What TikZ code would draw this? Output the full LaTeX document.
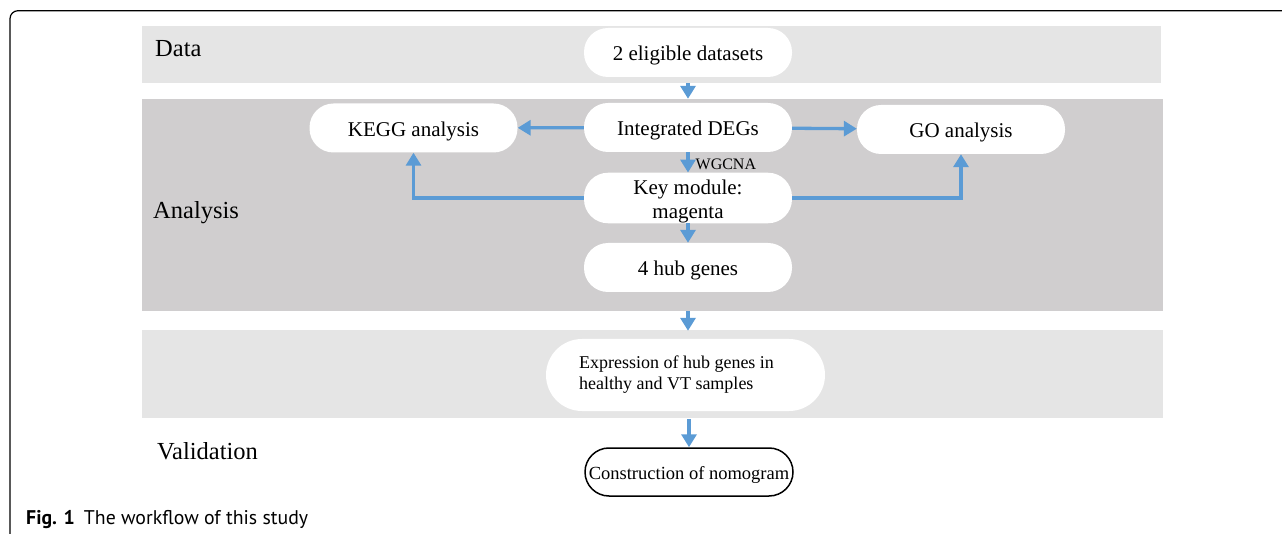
\documentclass[tikz,border=0pt]{standalone}
\usepackage{fontspec}
\setmainfont{Liberation Serif}
\newfontfamily\capfont{PT Sans}
\usetikzlibrary{arrows.meta}
\definecolor{bandlight}{HTML}{E5E5E5}
\definecolor{banddark}{HTML}{D0CECF}
\definecolor{flowblue}{HTML}{5B9BD5}
\begin{document}
\begin{tikzpicture}[x=1pt,y=-1pt,
  bubble/.style={fill=white,draw=none,rectangle,rounded corners=24pt,
    minimum width=208pt,minimum height=49pt,inner sep=0pt,align=center,
    font=\fontsize{21}{24}\selectfont},
  oneline/.style={text height=17pt,text depth=0pt},
  phase/.style={anchor=west,inner sep=0pt,font=\fontsize{24.5}{27}\selectfont},
  flow/.style={draw=flowblue,line width=3.3pt,
    -{Triangle[width=15pt,length=13pt]},color=flowblue}]
\useasboundingbox (0,0) rectangle (1282,534);

% outer frame
\draw[line width=1.2pt,rounded corners=8pt] (10,534) -- (10,10.7) -- (1282,10.7);

% stage bands
\fill[bandlight] (142,26) rectangle (1161,83);
\fill[banddark]  (142,99) rectangle (1163,311);
\fill[bandlight] (142,330) rectangle (1163,418);

% stage labels
\node[phase] (lData) at (155,49) {Data};
\node[phase] (lAna)  at (153,213) {Analysis};
\node[phase] (lVal)  at (157,451) {Validation};

% steps
\node[bubble,oneline] (ds)   at (688,52.5)  {2 eligible datasets};
\node[bubble,oneline] (deg)  at (688,127.5) {Integrated DEGs};
\node[bubble] (key)  at (688,198)   {\rule{0pt}{22pt}Key module:\\magenta};
\node[bubble,oneline] (hub)  at (688,267.5) {4 hub genes};
\node[bubble,oneline] (kegg) at (413.5,128) {KEGG analysis};
\node[bubble,oneline] (go)   at (961,129.5) {GO analysis};
\node[bubble,minimum width=279pt,minimum height=72pt,rounded corners=36pt,
  font=\fontsize{18}{21}\selectfont,align=left]
  (expr) at (685.5,375) {Expression of hub genes in\hspace*{18pt}\\healthy and VT samples};
\node[bubble,oneline,draw=black,line width=1.5pt,minimum height=48pt,
  font=\fontsize{18.5}{21}\selectfont,text height=15pt] (nomo) at (689,472) {Construction of nomogram};

% connectors
\draw[flow,shorten <=6pt,shorten >=4pt] (ds) -- (deg);
\draw[flow] (deg) -- node[right,black,inner sep=2pt,xshift=4pt,yshift=-2pt,
  font=\fontsize{16}{18}\selectfont] (wg) {WGCNA} (key);
\draw[flow] (key) -- (hub);
\draw[flow,shorten <=19pt,shorten >=8pt] (hub.south) -- (hub.south |- expr.north);
\draw[flow,shorten <=8pt] (nomo.north |- expr.south) -- (nomo.north);
\draw[flow] (deg) -- (kegg);
\draw[flow] (deg) -- (go);
\draw[flow] (key.west) -| (kegg.south);
\draw[flow] (key.east) -| (go.south);

% caption
\node[anchor=west,inner sep=0pt,font=\capfont\fontsize{19.8}{22}\selectfont]
  (cap) at (26,520) {\textbf{Fig. 1}\hspace{9pt}The workflow of this study};
\end{tikzpicture}
\end{document}
